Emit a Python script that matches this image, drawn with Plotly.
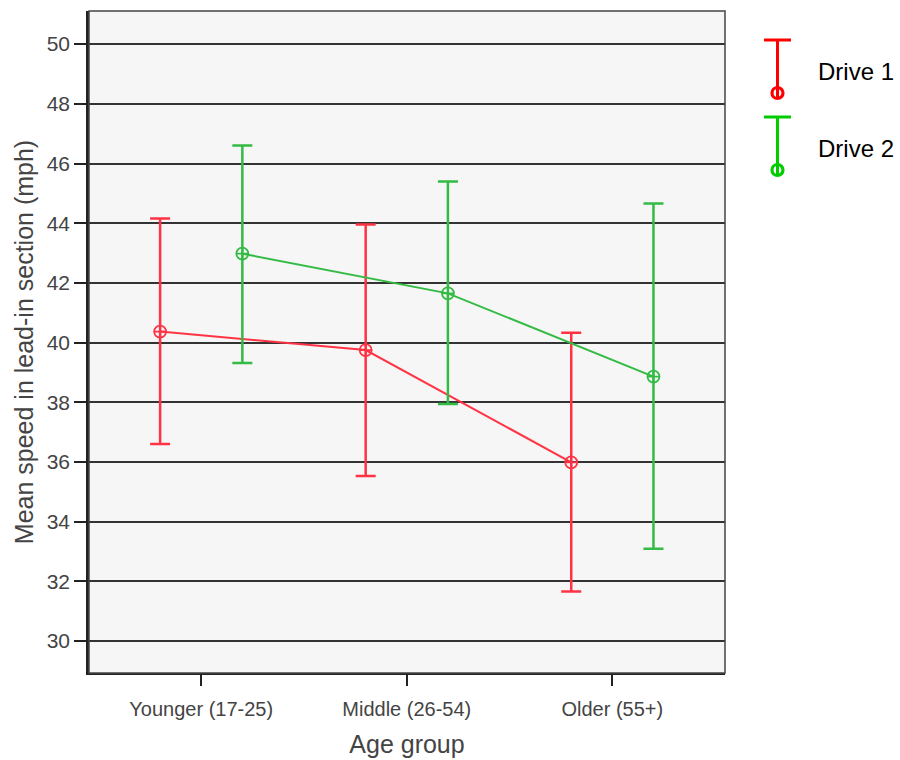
import plotly.graph_objects as go

categories = ["Younger (17-25)", "Middle (26-54)", "Older (55+)"]
drive1_mean = [40.37, 39.75, 35.99]
drive1_upper = [44.16, 43.96, 40.33]
drive1_lower = [36.60, 35.53, 31.66]
drive2_mean = [42.98, 41.65, 38.86]
drive2_upper = [46.60, 45.40, 44.66]
drive2_lower = [39.32, 37.94, 33.09]
y_ticks = [30, 32, 34, 36, 38, 40, 42, 44, 46, 48, 50]

RED = "#ff3344"
GREEN = "#33bb44"
OFFSET = 0.2

fig = go.Figure()

def add_series(mean, upper, lower, color, shift, name):
    xs = [i + shift for i in range(len(categories))]
    fig.add_trace(go.Scatter(
        x=xs, y=mean, name=name, mode="lines+markers",
        line=dict(color=color, width=2),
        marker=dict(symbol="circle-cross-open", size=12, color=color,
                    line=dict(width=1.8, color=color)),
        error_y=dict(type="data", symmetric=False,
                     array=[u - m for u, m in zip(upper, mean)],
                     arrayminus=[m - l for m, l in zip(mean, lower)],
                     color=color, thickness=2.5, width=10),
        showlegend=False,
    ))

add_series(drive1_mean, drive1_upper, drive1_lower, RED, -OFFSET, "Drive 1")
add_series(drive2_mean, drive2_upper, drive2_lower, GREEN, OFFSET, "Drive 2")

W, H = 900, 760
L, R, T, B = 89, 175, 11, 87
pw, ph = W - L - R, H - T - B

def px(x):
    return (x - L) / pw

def py(y):
    return (H - B - y) / ph

shapes = [
    dict(type="rect", xref="paper", yref="paper", x0=0, x1=1, y0=0, y1=1,
         line=dict(color="#444444", width=1.5), layer="above"),
]
annotations = []
legend_items = [("Drive 1", "#ff0000", 40, 93, 72), ("Drive 2", "#00cc00", 117, 170, 148)]
for name, col, ycap, ycirc, ytext in legend_items:
    shapes.append(dict(type="line", xref="paper", yref="paper",
                       x0=px(764), x1=px(791), y0=py(ycap), y1=py(ycap),
                       line=dict(color=col, width=3)))
    shapes.append(dict(type="line", xref="paper", yref="paper",
                       x0=px(777.5), x1=px(777.5), y0=py(ycap), y1=py(ycirc + 5),
                       line=dict(color=col, width=3)))
    shapes.append(dict(type="circle", xref="paper", yref="paper",
                       x0=px(772), x1=px(783), y0=py(ycirc - 5.5), y1=py(ycirc + 5.5),
                       line=dict(color=col, width=3.2)))
    annotations.append(dict(text=name, xref="paper", yref="paper",
                            x=px(816), y=py(ytext), xanchor="left", yanchor="middle",
                            showarrow=False,
                            font=dict(family="Liberation Sans, Arial", size=24, color="#000000")))

fig.update_layout(
    width=W, height=H,
    margin=dict(l=L, r=R, t=T, b=B, pad=0, autoexpand=False),
    paper_bgcolor="white",
    plot_bgcolor="#f6f6f6",
    font=dict(family="Liberation Sans, Arial", color="#444444"),
    shapes=shapes,
    annotations=annotations,
    xaxis=dict(
        range=[-0.546, 2.548],
        tickmode="array", tickvals=[0, 1, 2], ticktext=categories,
        ticks="outside", ticklen=11, tickwidth=2, tickcolor="#222222",
        tickfont=dict(size=20, color="#444444"),
        showgrid=False, zeroline=False,
        showline=True, linecolor="#222222", linewidth=2,
        title=dict(text="Age group", font=dict(size=25, color="#444444"), standoff=16),
        ticklabelstandoff=6, automargin=False,
    ),
    yaxis=dict(
        range=[28.93, 51.11],
        tickmode="array", tickvals=y_ticks,
        ticks="outside", ticklen=12, tickwidth=2, tickcolor="#222222",
        tickfont=dict(size=21, color="#444444"),
        showgrid=True, gridcolor="#333333", gridwidth=2,
        zeroline=False,
        showline=True, linecolor="#222222", linewidth=2.5,
        title=dict(text="Mean speed in lead-in section (mph)",
                   font=dict(size=25, color="#444444"), standoff=6),
        ticklabelstandoff=0, automargin=False,
    ),
)

fig.write_html("out.html")
